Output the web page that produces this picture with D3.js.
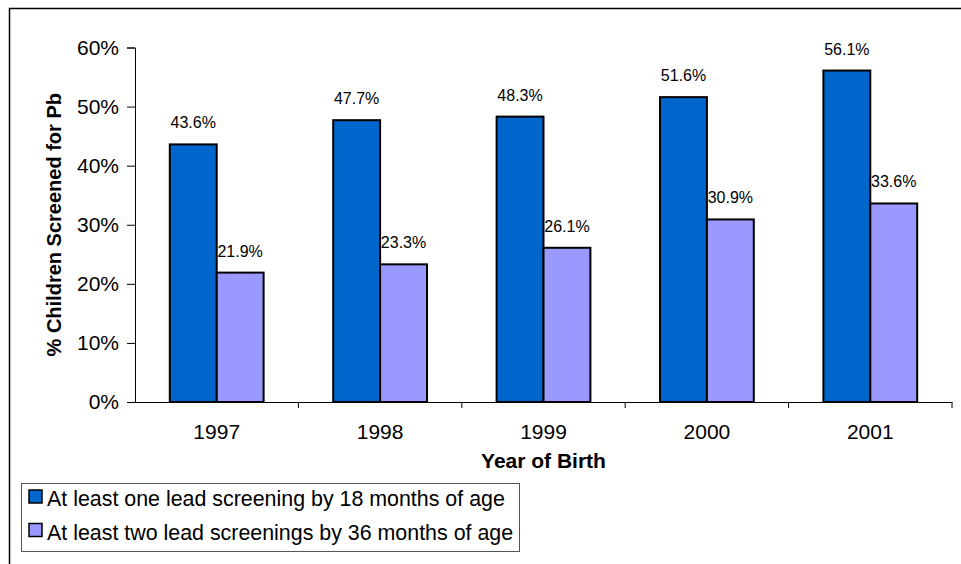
<!DOCTYPE html>
<html>
<head>
<meta charset="utf-8">
<script src="https://cdn.jsdelivr.net/npm/d3@7"></script>
<style>
  body { margin: 0; background: #fff; }
  svg { display: block; font-family: Arial, "Liberation Sans", sans-serif; }
</style>
</head>
<body>
<div id="chart"></div>
<script>
const years = ["1997", "1998", "1999", "2000", "2001"];
const seriesNames = [
  "At least one lead screening by 18 months of age",
  "At least two lead screenings by 36 months of age"
];
const oneBy18 = [43.6, 47.7, 48.3, 51.6, 56.1];
const twoBy36 = [21.9, 23.3, 26.1, 30.9, 33.6];
const yTicks = [0, 10, 20, 30, 40, 50, 60];
const colors = ["#0066CC", "#9999FF"];

const width = 961, height = 564;
const margin = { top: 47.5, right: 9, bottom: 162, left: 135 };

const svg = d3.select("#chart")
  .append("svg")
  .attr("width", width)
  .attr("height", height);

// outer frame (cut off at right and bottom like the original)
svg.append("rect")
  .attr("x", 9.5).attr("y", 8.5)
  .attr("width", 1000).attr("height", 600)
  .attr("fill", "none").attr("stroke", "#000").attr("stroke-width", 1.5);

const x0 = d3.scaleBand()
  .domain(years)
  .range([margin.left, width - margin.right])
  .paddingInner(0)
  .paddingOuter(0);

const x1 = d3.scaleBand()
  .domain([0, 1])
  .range([x0.bandwidth() * 0.213, x0.bandwidth() * 0.787]);

const y = d3.scaleLinear()
  .domain([0, 60])
  .range([height - margin.bottom, margin.top]);

// y axis
const yAxis = svg.append("g")
  .attr("transform", `translate(${margin.left},0)`)
  .call(d3.axisLeft(y).tickValues(yTicks).tickFormat(d => d + "%").tickSize(8).tickPadding(8));
yAxis.select(".domain").attr("stroke", "#000");
yAxis.selectAll("line").attr("stroke", "#000");
yAxis.selectAll("text").attr("fill", "#000").style("font-size", "21px")
  .attr("font-family", "Arial, 'Liberation Sans', sans-serif");

// x axis
const xAxis = svg.append("g")
  .attr("transform", `translate(0,${y(0)})`)
  .call(d3.axisBottom(x0).tickSize(0).tickPadding(22));
xAxis.select(".domain").attr("stroke", "#000");
xAxis.selectAll("text").attr("fill", "#000").style("font-size", "21px")
  .attr("font-family", "Arial, 'Liberation Sans', sans-serif");
// category separators
xAxis.append("g")
  .selectAll("line")
  .data(years)
  .join("line")
  .attr("x1", d => x0(d) + x0.bandwidth())
  .attr("x2", d => x0(d) + x0.bandwidth())
  .attr("y1", 0).attr("y2", 6)
  .attr("stroke", "#000");

const series = [oneBy18, twoBy36];
const flat = [];
series.forEach((vals, s) => vals.forEach((v, i) => flat.push({ year: years[i], s, v })));

svg.append("g")
  .selectAll("rect")
  .data(flat)
  .join("rect")
  .attr("x", d => x0(d.year) + x1(d.s))
  .attr("y", d => y(d.v))
  .attr("width", x1.bandwidth())
  .attr("height", d => y(0) - y(d.v))
  .attr("fill", d => colors[d.s])
  .attr("stroke", "#000")
  .attr("stroke-width", 2);

svg.append("g")
  .selectAll("text")
  .data(flat)
  .join("text")
  .attr("x", d => x0(d.year) + x1(d.s) + x1.bandwidth() / 2)
  .attr("y", d => y(d.v) - 16)
  .attr("text-anchor", "middle")
  .style("font-size", "16px")
  .attr("fill", "#000")
  .text(d => d.v.toFixed(1) + "%");

// axis titles
svg.append("text")
  .attr("x", (margin.left + width - margin.right) / 2)
  .attr("y", 468)
  .attr("text-anchor", "middle")
  .style("font-size", "21px")
  .style("font-weight", "bold")
  .text("Year of Birth");

svg.append("text")
  .attr("transform", `translate(61,${(y(0) + y(60)) / 2}) rotate(-90)`)
  .attr("text-anchor", "middle")
  .style("font-size", "20px")
  .style("font-weight", "bold")
  .text("% Children Screened for Pb");

// legend
const legend = svg.append("g");
legend.append("rect")
  .attr("x", 21.5).attr("y", 483.5)
  .attr("width", 498).attr("height", 68)
  .attr("fill", "#fff").attr("stroke", "#555").attr("stroke-width", 1);

const items = legend.selectAll("g.item")
  .data(seriesNames)
  .join("g")
  .attr("class", "item")
  .attr("transform", (d, i) => `translate(0,${i * 33.5})`);
items.append("rect")
  .attr("x", 29).attr("y", 490)
  .attr("width", 13).attr("height", 13)
  .attr("fill", (d, i) => colors[i])
  .attr("stroke", "#000").attr("stroke-width", 1.5);
items.append("text")
  .attr("x", 47).attr("y", 506)
  .style("font-size", "21.4px")
  .attr("fill", "#000")
  .text(d => d);
</script>
</body>
</html>
